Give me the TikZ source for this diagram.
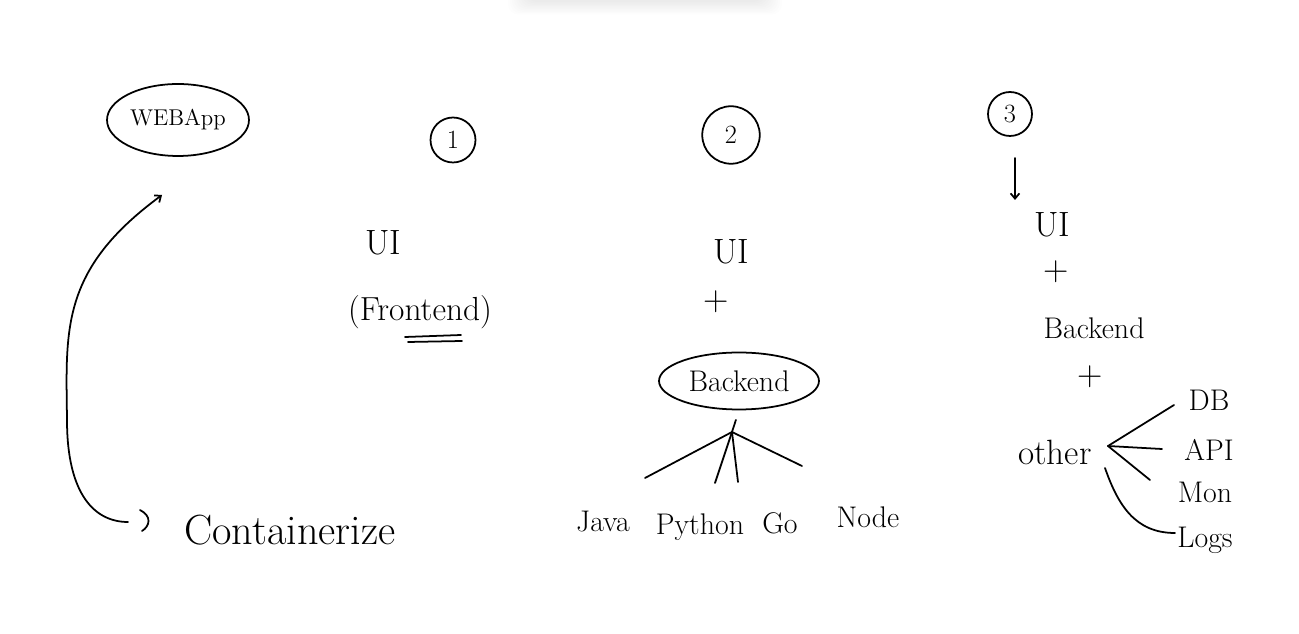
\documentclass[tikz,border=0pt]{standalone}
\usepackage{tikz}
\usetikzlibrary{shapes,calc,positioning,arrows.meta}

\tikzset{hand/.style={font=\fontsize{17}{19}\selectfont, inner sep=1pt},
         big/.style={font=\fontsize{20}{22}\selectfont, inner sep=1pt},
         num/.style={draw, circle, line width=1pt, font=\fontsize{15}{17}\selectfont},
         oval/.style={draw, ellipse, line width=1pt, inner sep=0pt}}

\begin{document}
\begin{tikzpicture}[x=0.02cm,y=-0.02cm,line width=1pt,line cap=round]
    \useasboundingbox[fill=white] (0,0) rectangle (1299,634);
    % shadow at the top edge
    \foreach \i in {0,...,9}
      \fill[black,opacity=.008,rounded corners=6pt] (526-2*\i,-12) rectangle (764+2*\i,2+1.4*\i);

    \node[oval, font=\fontsize{13}{15}\selectfont, minimum width=2.84cm, minimum height=1.44cm] (webapp) at (178,120) {WEBApp};
    \node[num, minimum size=0.9cm] (one)   at (453,140) {1};
    \node[num, minimum size=1.15cm] (two)  at (731,135) {2};
    \node[num, minimum size=0.88cm] (three) at (1010,114) {3};

    % 1
    \node[big] (uiA) at (383,243) {UI};
    \node[font=\fontsize{19}{21}\selectfont, inner sep=1pt] (front) at (420,312) {(Frontend)};
    \draw (405,337) -- (461,335);
    \draw (408,342) -- (462,341);

    % 2
    \node[big] (uiB) at (731,252) {UI};
    \node[big] (plusB) at (716,302) {+};
    \node[oval, hand, minimum width=3.2cm, minimum height=1.14cm] (back) at (739,381) {Backend};
    \coordinate (hub) at (732,432);
    \draw[shorten <=0.2cm] (back.south) -- (hub);
    \node[hand] (java)   at (603,522) {Java};
    \node[hand] (python) at (700,527) {Python};
    \node[hand] (go)     at (780,523) {Go};
    \node[hand] (node)   at (868,517) {Node};
    \coordinate (jA) at (645,478);
    \coordinate (jB) at (715,483);
    \coordinate (jC) at (738,482);
    \coordinate (jD) at (802,466);
    \foreach \e in {jA,jB,jC,jD}
      \draw (hub) -- (\e);

    % 3
    \coordinate (down) at (1015,158);
    \draw[-{Straight Barb[length=3pt,width=5pt]}] (down) -- ++(0,42);
    \node[big] (uiC) at (1052,225) {UI};
    \node[big] (plusC) at (1056,272) {+};
    \node[hand] (backC) at (1094,328) {Backend};
    \node[big] (plusD) at (1090,377) {+};
    \node[big] (other) at (1055,452) {other};
    \node[hand] (db)   at (1209,400) {DB};
    \node[hand] (api)  at (1209,450) {API};
    \node[hand] (mon)  at (1205,492) {Mon};
    \node[hand] (logs) at (1205,540) {Logs};
    \coordinate (ohub) at (1108,446);
    \coordinate (oA) at (1174,405);
    \coordinate (oB) at (1162,449);
    \coordinate (oC) at (1150,480);
    \coordinate (oD) at (1175,533);
    \foreach \e in {oA,oB,oC}
      \draw (ohub) -- (\e);
    \draw (1105,468) .. controls (1118,505) and (1135,533) .. (oD);

    % containerize
    \node[font=\fontsize{24}{26}\selectfont, inner sep=1pt] (contain) at (290,530) {Containerize};
    \coordinate (cTop) at (162,195);
    \coordinate (cEnd) at (128,522);
    \draw[{Straight Barb[length=3pt,width=5pt]}-] (cTop) .. controls (60,270) and (66,330) .. (67,420)
          .. controls (67,495) and (95,522) .. (cEnd);
    \draw (140,510) .. controls (152,516) and (150,526) .. (142,531);
\end{tikzpicture}
\end{document}
